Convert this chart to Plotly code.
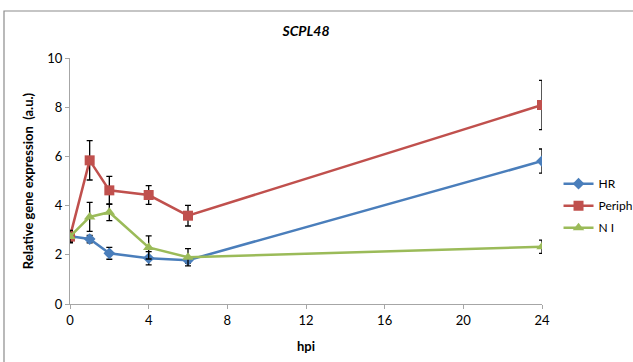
import plotly.graph_objects as go

hpi = [0, 1, 2, 4, 6, 24]
hr = [2.75, 2.64, 2.06, 1.86, 1.78, 5.81]
hr_err = [0.2, 0.15, 0.24, 0.27, 0.12, 0.49]
periph = [2.74, 5.84, 4.62, 4.43, 3.59, 8.09]
periph_err = [0.2, 0.8, 0.57, 0.38, 0.42, 1.0]
ni = [2.74, 3.54, 3.73, 2.30, 1.90, 2.33]
ni_err = [0.25, 0.59, 0.34, 0.47, 0.35, 0.27]

series = [
    ("HR", hr, hr_err, "#4A7EBB", "diamond", 9),
    ("Periph", periph, periph_err, "#C0504D", "square", 10),
    ("N I", ni, ni_err, "#9BBB59", "triangle-up", 10),
]

FONT = "Lato, Open Sans, sans-serif"
fig = go.Figure()
for name, vals, err, col, sym, sz in series:
    fig.add_trace(go.Scatter(
        x=hpi, y=vals, name=name, mode="lines+markers",
        line=dict(color=col, width=2.5),
        marker=dict(symbol=sym, size=sz, color=col),
        error_y=dict(type="data", array=err, visible=True, color="black",
                     thickness=1.3, width=3),
        legendgroup=name,
    ))

fig.update_layout(
    width=633, height=362,
    margin=dict(l=70, r=91, t=58, b=58, autoexpand=False),
    paper_bgcolor="white", plot_bgcolor="white",
    font=dict(family=FONT, size=13, color="black"),
    title=dict(text="<b><i>SCPL48</i></b>", x=0.5, xref="paper", xanchor="center",
               y=1 - 31/362, yanchor="middle", font=dict(size=14)),
    showlegend=True,
    legend=dict(x=1.035, xanchor="left", y=0.548, yanchor="top",
                font=dict(size=12), tracegroupgap=3, bgcolor="rgba(0,0,0,0)"),
    xaxis=dict(range=[0, 24], tickvals=[0, 4, 8, 12, 16, 20, 24],
               showline=True, linecolor="#A6A6A6", linewidth=1.3,
               ticks="outside", ticklen=4, tickcolor="#A6A6A6",
               showgrid=False, zeroline=False, automargin=False,
               title=dict(text="<b>hpi</b>", standoff=15, font=dict(size=13))),
    yaxis=dict(range=[0, 10], tickvals=[0, 2, 4, 6, 8, 10],
               showline=True, linecolor="#A6A6A6", linewidth=1.3,
               ticks="outside", ticklen=4, tickcolor="#A6A6A6",
               showgrid=False, zeroline=False, automargin=False,
               title=dict(text="<b>Relative gene expression  (a.u.)</b>", standoff=10,
                          font=dict(size=13))),
    shapes=[dict(type="rect", xref="paper", yref="paper",
                 x0=(4 - 70) / 472, x1=1.3, y0=-0.4, y1=(304 - 11) / 246,
                 line=dict(color="#8C8C8C", width=1.2), layer="below")],
)

fig.write_html("out.html", config={"displayModeBar": False},
               post_script="document.body.style.margin='0';document.body.style.overflow='hidden';")
